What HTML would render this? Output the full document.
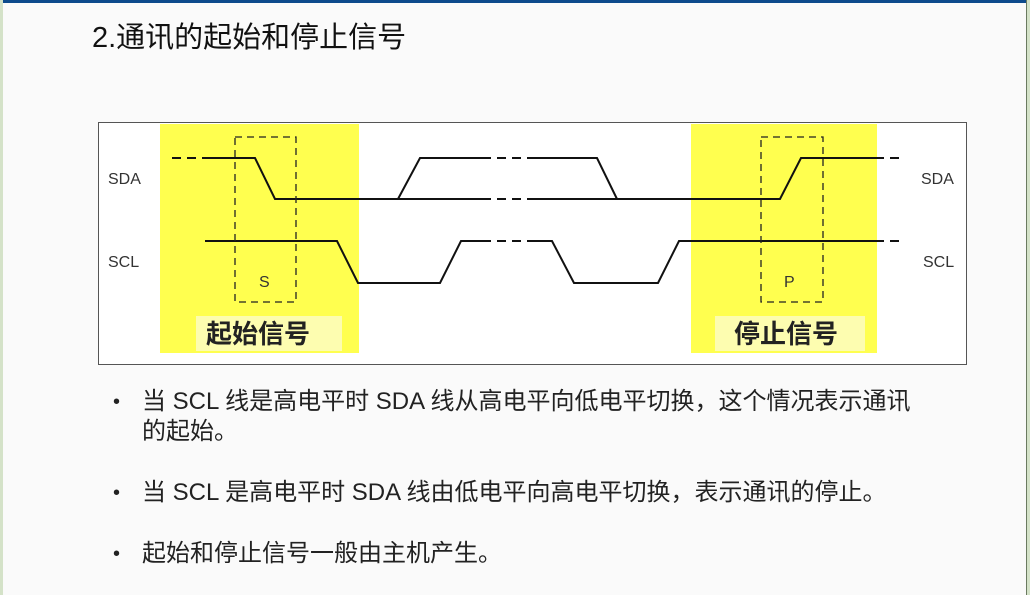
<!DOCTYPE html>
<html><head><meta charset="utf-8"><style>
body{margin:0;width:1030px;height:595px;background:#fafafa;position:relative;overflow:hidden;font-family:"Liberation Sans","Noto Sans CJK SC",sans-serif;}
.topbar{position:absolute;left:0;top:0;width:1030px;height:3px;background:#0d4a8c;}
.lb{position:absolute;left:0;top:0;width:3px;height:595px;background:#d4e2c8;}
.rb{position:absolute;left:1026px;top:0;width:4px;height:595px;background:#d4e2c8;border-left:1px solid #6a7a60;}
.title{position:absolute;left:92px;top:14px;font-size:29px;color:#111;}
.b{position:absolute;left:113px;font-size:24px;color:#222;line-height:30px;}
.b span{position:absolute;left:0;font-size:20px;}
.b div{margin-left:29px;width:790px;}
</style></head><body>
<div class="topbar"></div><div class="lb"></div><div class="rb"></div>
<div class="title">2.通讯的起始和停止信号</div>
<svg style="position:absolute;left:0;top:0" width="1030" height="595">
<rect x="98.5" y="122.5" width="868" height="242" fill="#fff" stroke="#555"/>
<rect x="160" y="124" width="199" height="229" fill="#ffff4f"/>
<rect x="691" y="124" width="186" height="229" fill="#ffff4f"/>
<rect x="196" y="316" width="146" height="35" fill="#fdfdb0"/>
<rect x="715" y="316" width="150" height="35" fill="#fdfdb0"/>
<g font-family="Liberation Sans,sans-serif" font-size="16" fill="#333">
<text x="108" y="184">SDA</text><text x="108" y="267">SCL</text>
<text x="921" y="184">SDA</text><text x="923" y="267">SCL</text>
<text x="259" y="287">S</text><text x="784" y="287">P</text>
</g>
<g font-family="Liberation Sans,Noto Sans CJK SC,sans-serif" font-size="26" font-weight="bold" fill="#222">
<text x="206" y="343">起始信号</text><text x="734" y="343">停止信号</text>
</g>
<g fill="none" stroke="#111" stroke-width="2">
<path d="M172 158 H210" stroke-dasharray="9,6"/>
<path d="M210 158 H255 L275 199 H482 M398 199 L420 158 H482"/>
<path d="M482 158 H532 M482 199 H532" stroke-dasharray="9,6"/>
<path d="M532 158 H597 L617 199 M532 199 H780 L801 158 H875"/>
<path d="M875 158 H905" stroke-dasharray="9,6"/>
<path d="M205 241 H337 L358 283 H440 L461 241 H482"/>
<path d="M482 241 H533" stroke-dasharray="9,6"/>
<path d="M533 241 H552 L574 283 H658 L679 241 H875"/>
<path d="M875 241 H905" stroke-dasharray="9,6"/>
</g>
<g fill="none" stroke="#222" stroke-width="1.3" stroke-dasharray="7,5">
<rect x="235" y="137" width="61" height="165"/>
<rect x="761" y="137" width="62" height="165"/>
</g>
</svg>
<div class="b" style="top:387px"><span>•</span><div>当 SCL 线是高电平时 SDA 线从高电平向低电平切换，这个情况表示通讯<br>的起始。</div></div>
<div class="b" style="top:478px"><span>•</span><div>当 SCL 是高电平时 SDA 线由低电平向高电平切换，表示通讯的停止。</div></div>
<div class="b" style="top:539px"><span>•</span><div>起始和停止信号一般由主机产生。</div></div>
</body></html>
